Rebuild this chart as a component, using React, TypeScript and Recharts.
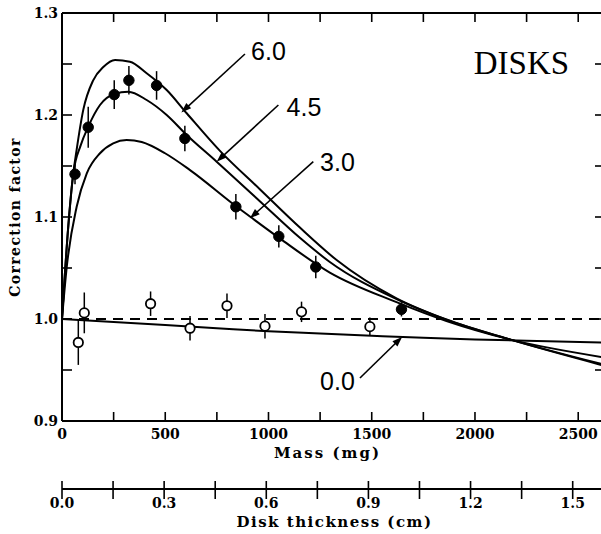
import React from 'react';
import {
  ComposedChart, Line, Scatter, XAxis, YAxis, ErrorBar, ReferenceLine, ReferenceDot,
} from 'recharts';

// ---- data (mass in mg, correction factor) ----
const curve60: [number, number][] = [
  [0, 1.0], [30, 1.09], [50, 1.135], [71, 1.166], [103, 1.205], [151, 1.234], [200, 1.247],
  [257, 1.254], [329, 1.2523], [410, 1.241], [507, 1.2245], [604, 1.2017], [765, 1.1648],
  [958, 1.1272], [1152, 1.0896], [1330, 1.0578], [1620, 1.0203], [1862, 0.9995],
  [2168, 0.98], [2620, 0.9545],
];
const curve45: [number, number][] = [
  [0, 1.0], [29, 1.087], [55, 1.1428], [90, 1.17], [127, 1.1885], [184, 1.2098], [253, 1.2206],
  [321, 1.2228], [410, 1.2147], [507, 1.2], [604, 1.1804], [749, 1.1542], [958, 1.1155],
  [1152, 1.0796], [1297, 1.0559], [1620, 1.0195], [1862, 0.9993], [2168, 0.98], [2620, 0.9555],
];
const curve30: [number, number][] = [
  [0, 1.0], [23, 1.051], [71, 1.11], [120, 1.1428], [184, 1.1625], [248, 1.1722],
  [313, 1.1755], [386, 1.1735], [499, 1.1625], [620, 1.146], [846, 1.1101], [910, 1.1005],
  [1055, 1.079], [1297, 1.0455], [1620, 1.0165], [1862, 0.998], [2168, 0.98], [2620, 0.9625],
];
const curve00: [number, number][] = [
  [0, 1.0], [250, 0.997], [500, 0.994], [750, 0.991], [1000, 0.988], [1250, 0.9857],
  [1500, 0.9835], [1750, 0.9815], [2000, 0.98], [2250, 0.9787], [2620, 0.977],
];
// measured points: mass, value, error
const filledPts: [number, number, number][] = [
  [63, 1.142, 0.01], [127, 1.188, 0.02], [253, 1.22, 0.014], [324, 1.234, 0.014],
  [458, 1.229, 0.014], [595, 1.177, 0.0125], [842, 1.11, 0.0125], [1050, 1.081, 0.011],
  [1229, 1.051, 0.011], [1644, 1.0095, 0.007],
];
const openPts: [number, number, number][] = [
  [79, 0.977, 0.022], [108, 1.006, 0.02], [429, 1.015, 0.012], [620, 0.991, 0.012],
  [799, 1.013, 0.012], [983, 0.993, 0.012], [1160, 1.007, 0.01], [1491, 0.9925, 0.009],
];
const massTicks = [0, 250, 500, 750, 1000, 1250, 1500, 1750, 2000, 2250, 2500];
const massLabels = [0, 500, 1000, 1500, 2000, 2500];
const yTicks = [0.9, 0.95, 1.0, 1.05, 1.1, 1.15, 1.2, 1.25, 1.3];
const yLabels = ['0.9', '1.0', '1.1', '1.2', '1.3'];
const thickTicks = [0, 0.15, 0.3, 0.45, 0.6, 0.75, 0.9, 1.05, 1.2, 1.35, 1.5];
const thickLabels = ['0.0', '0.3', '0.6', '0.9', '1.2', '1.5'];
// annotations: label, text position, arrow start, arrow tip
const curveLabels: { t: string; m: number; v: number; from: [number, number]; to: [number, number] }[] = [
  { t: '6.0', m: 1000, v: 1.2623, from: [886, 1.2598], to: [578, 1.2025] },
  { t: '4.5', m: 1172, v: 1.2083, from: [1048, 1.2098], to: [749, 1.1542] },
  { t: '3.0', m: 1334, v: 1.1539, from: [1217, 1.1542], to: [910, 1.0987] },
  { t: '0.0', m: 1334, v: 0.9392, from: [1443, 0.9422], to: [1647, 0.9824] },
];
const titleText = { t: 'DISKS', m: 2225, v: 1.2523 };

const MASS_MAX = 2620;
const THICK_MAX = 1.589;
const Y_MIN = 0.9;
const Y_MAX = 1.3;

// extent used to anchor the thickness axis (not drawn)
const thickExtent = [{ m: 0, v: 1 }, { m: THICK_MAX, v: 1 }];

const toRows = (a: [number, number][]) => a.map(([m, v]) => ({ m, v }));
const toPts = (a: [number, number, number][]) => a.map(([m, v, e]) => ({ m, v, e }));

const serifBold = { fontFamily: 'DejaVu Serif', fontWeight: 700, fontSize: 14, fill: '#000' } as const;
const TICK = '#000';
const TW = 1.6;

const LeftTick = (p: any) => {
  const { x, y, payload } = p;
  const lbl = payload.value.toFixed(1);
  const show = yLabels.includes(lbl) && Math.abs(payload.value * 10 - Math.round(payload.value * 10)) < 1e-6;
  return (
    <g>
      <line x1={x} y1={y} x2={x + 10} y2={y} stroke={TICK} strokeWidth={TW} />
      {show && <text x={x - 4} y={y} dy="0.36em" textAnchor="end" {...serifBold}>{lbl}</text>}
    </g>
  );
};
const MassTick = (p: any) => {
  const { x, y, payload } = p;
  const show = massLabels.includes(payload.value);
  return (
    <g>
      {payload.value > 0 && <line x1={x} y1={y} x2={x} y2={y - 9} stroke={TICK} strokeWidth={TW} />}
      {show && <text x={x} y={y + 18} textAnchor="middle" {...serifBold}>{payload.value}</text>}
    </g>
  );
};
const ThickTick = (p: any) => {
  const { x, y, payload } = p;
  const lbl = payload.value.toFixed(1);
  const show = thickLabels.includes(lbl) && Math.abs(payload.value / 0.3 - Math.round(payload.value / 0.3)) < 1e-6;
  return (
    <g>
      <line x1={x} y1={y - 8} x2={x} y2={y + 10} stroke={TICK} strokeWidth={TW} />
      {show && <text x={x} y={y + 19} textAnchor="middle" {...serifBold}>{lbl}</text>}
    </g>
  );
};
// frame ticks on the top and right borders, placed through the chart's scales
const TopTickShape = (p: any) => {
  const top = Math.min(p.y1, p.y2);
  return <line x1={p.x1} y1={top} x2={p.x1} y2={top + 9} stroke={TICK} strokeWidth={TW} />;
};
const RightTickShape = (p: any) => {
  const right = Math.max(p.x1, p.x2);
  return <line x1={right - 8} y1={p.y1} x2={right} y2={p.y1} stroke={TICK} strokeWidth={TW} />;
};

const Arrow = (p: any) => {
  const { x1, y1, x2, y2 } = p;
  const dx = x2 - x1, dy = y2 - y1;
  const len = Math.hypot(dx, dy) || 1;
  const ux = dx / len, uy = dy / len;
  const hl = 10, hw = 3.6;
  const bx = x2 - ux * hl, by = y2 - uy * hl;
  return (
    <g>
      <line x1={x1} y1={y1} x2={bx + ux * 2} y2={by + uy * 2} stroke="#000" strokeWidth={1.6} />
      <polygon points={`${x2},${y2} ${bx - uy * hw},${by + ux * hw} ${bx + uy * hw},${by - ux * hw}`} fill="#000" />
    </g>
  );
};

const makeTextShape = (t: string, font: any) => (p: any) => (
  <text x={p.cx} y={p.cy} dy="0.36em" textAnchor="middle" {...font}>{t}</text>
);

const FilledDot = (p: any) => <circle cx={p.cx} cy={p.cy} r={5.2} fill="#000" stroke="#000" strokeWidth={1} />;
const OpenDot = (p: any) => <circle cx={p.cx} cy={p.cy} r={4.7} fill="#fff" stroke="#000" strokeWidth={1.8} />;

export default function App() {
  return (
    <div style={{ position: 'fixed', left: 0, top: 0, width: 601, height: 534, overflow: 'hidden', background: '#fff' }}>
      <ComposedChart width={620} height={534} margin={{ top: 13, right: 17, bottom: 0, left: 0 }}>
        <XAxis
          dataKey="m" type="number" domain={[0, MASS_MAX]} allowDataOverflow ticks={massTicks} interval={0}
          tickLine={false} tickSize={0} tickMargin={0} tick={<MassTick />} height={68}
          axisLine={{ stroke: '#000', strokeWidth: 2 }}
          label={{ value: 'Mass  (mg)', position: 'insideTop', offset: 26, dx: -5, style: { ...serifBold, fontSize: 15, letterSpacing: 2 } }}
        />
        <XAxis
          xAxisId="thick" dataKey="m" type="number" domain={[0, THICK_MAX]} allowDataOverflow ticks={thickTicks} interval={0}
          tickLine={false} tickSize={0} tickMargin={0} tick={<ThickTick />} height={45}
          axisLine={{ stroke: '#000', strokeWidth: 2 }}
          label={{ value: 'Disk  thickness  (cm)', position: 'insideTop', offset: 27, dx: 2, style: { ...serifBold, fontSize: 15, letterSpacing: 1.5 } }}
        />
        <YAxis
          type="number" domain={[Y_MIN, Y_MAX]} allowDataOverflow ticks={yTicks} interval={0}
          tickLine={false} tickSize={0} tickMargin={0} tick={<LeftTick />} width={62}
          axisLine={{ stroke: '#000', strokeWidth: 2 }}
          label={{ value: 'Correction factor', angle: -90, position: 'insideLeft', offset: 15, style: { ...serifBold, fontSize: 14, letterSpacing: 1.4, textAnchor: 'middle' } }}
        />
        <Line xAxisId="thick" data={thickExtent} dataKey="v" stroke="none" dot={false} activeDot={false} isAnimationActive={false} />
        {/* frame: top border and right border with inward ticks */}
        <ReferenceLine y={Y_MAX} stroke="#000" strokeWidth={2} />
        <ReferenceLine x={MASS_MAX} stroke="#000" strokeWidth={2} />
        {massTicks.slice(1).map((m) => (
          <ReferenceLine key={'tt' + m} x={m} shape={TopTickShape} />
        ))}
        {yTicks.map((v) => (
          <ReferenceLine key={'rt' + v} y={v} shape={RightTickShape} />
        ))}
        <ReferenceLine y={1.0} stroke="#000" strokeWidth={1.8} strokeDasharray="10 7" />
        <Line data={toRows(curve00)} dataKey="v" type="monotone" stroke="#000" strokeWidth={2} dot={false} isAnimationActive={false} />
        <Line data={toRows(curve30)} dataKey="v" type="monotone" stroke="#000" strokeWidth={2} dot={false} isAnimationActive={false} />
        <Line data={toRows(curve45)} dataKey="v" type="monotone" stroke="#000" strokeWidth={2} dot={false} isAnimationActive={false} />
        <Line data={toRows(curve60)} dataKey="v" type="monotone" stroke="#000" strokeWidth={2} dot={false} isAnimationActive={false} />
        <Scatter data={toPts(openPts)} dataKey="v" shape={<OpenDot />} isAnimationActive={false}>
          <ErrorBar dataKey="e" direction="y" width={0} stroke="#000" strokeWidth={1.5} />
        </Scatter>
        <Scatter data={toPts(filledPts)} dataKey="v" shape={<FilledDot />} isAnimationActive={false}>
          <ErrorBar dataKey="e" direction="y" width={0} stroke="#000" strokeWidth={1.5} />
        </Scatter>
        {curveLabels.map((c) => (
          <ReferenceLine key={'a' + c.t} segment={[{ x: c.from[0], y: c.from[1] }, { x: c.to[0], y: c.to[1] }]} shape={Arrow} />
        ))}
        {curveLabels.map((c) => (
          <ReferenceDot key={'t' + c.t} x={c.m} y={c.v} r={1}
            shape={makeTextShape(c.t, { fontFamily: 'Liberation Sans', fontSize: 25, fill: '#000' })} />
        ))}
        <ReferenceDot x={titleText.m} y={titleText.v} r={1}
          shape={makeTextShape(titleText.t, { fontFamily: 'Liberation Serif', fontSize: 33, fill: '#000' })} />
      </ComposedChart>
    </div>
  );
}
